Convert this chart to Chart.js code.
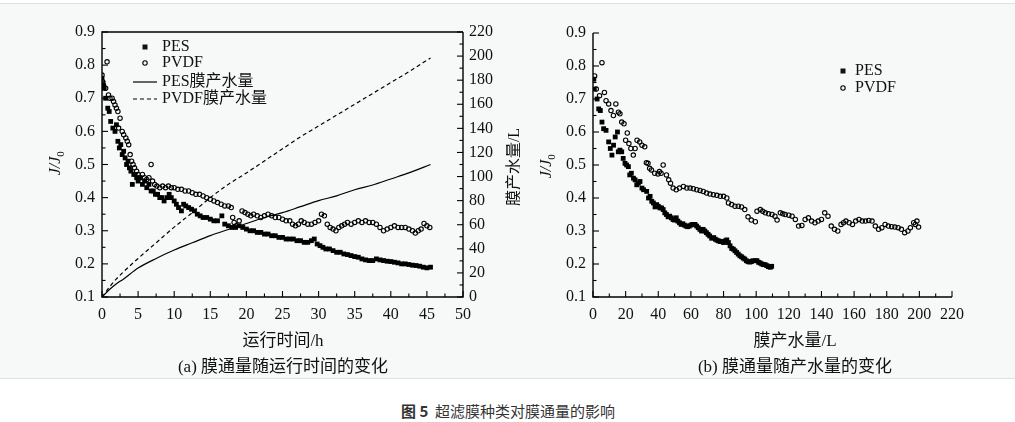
<!DOCTYPE html>
<html>
<head>
<meta charset="utf-8">
<script src="https://cdn.jsdelivr.net/npm/chart.js@4.4.1/dist/chart.umd.min.js"></script>
<style>
body { margin: 0; width: 1015px; height: 422px; background: #fff; position: relative; overflow: hidden; }
#panel { position: absolute; left: 0; top: 3px; width: 1015px; height: 374px; background: #f7f8f8;
         border-top: 1px solid #dde3e3; border-bottom: 1px solid #dde3e3; }
canvas { position: absolute; top: 0; }
.lab { position: absolute; transform: translate(-50%, -50%); white-space: nowrap; font-size: 17px; color: #111;
       font-family: "Liberation Serif", "Noto Sans CJK SC", serif; }
#fig { position: absolute; transform: translate(-50%, -50%); white-space: nowrap; font-size: 15px; color: #333;
       font-family: "Noto Sans CJK SC", sans-serif; }
</style>
</head>
<body>
<div id="panel"></div>
<canvas id="chartA" width="520" height="330" style="left:0px"></canvas>
<canvas id="chartB" width="495" height="330" style="left:520px"></canvas>
<div class="lab" style="left:283px;top:338px">运行时间/h</div>
<div class="lab" style="left:283px;top:364px">(a) 膜通量随运行时间的变化</div>
<div class="lab" style="left:795px;top:338px">膜产水量/L</div>
<div class="lab" style="left:795px;top:364px">(b) 膜通量随产水量的变化</div>
<div id="fig" style="left:508px;top:410px"><b>图 5</b>&nbsp;&nbsp;超滤膜种类对膜通量的影响</div>

<script>
// J/J0 against running time (h)
var pesTime = [[0,0.76],[0.1,0.74],[0.3,0.73],[0.5,0.70],[0.8,0.67],[1.0,0.66],[1.2,0.63],[1.5,0.61],[1.8,0.60],[2.0,0.62],
  [2.2,0.57],[2.4,0.55],[2.6,0.56],[2.8,0.53],[3.0,0.54],[3.2,0.52],[3.4,0.50],[3.6,0.51],[3.8,0.49],[4.0,0.48],
  [4.2,0.44],[4.4,0.47],[4.6,0.47],[4.8,0.46],[5.0,0.45],[5.3,0.46],[5.6,0.44],[5.9,0.45],[6.2,0.43],[6.5,0.44],
  [6.8,0.42],[7.1,0.42],[7.4,0.41],[7.7,0.41],[8.0,0.40],[8.3,0.40],[8.6,0.39],[9.0,0.40],[9.3,0.41],[9.6,0.40],
  [10.0,0.39],[10.3,0.38],[10.6,0.37],[11.0,0.36],[11.3,0.38],[11.6,0.375],[12.0,0.37],[12.4,0.365],[12.8,0.36],[13.2,0.35],
  [13.6,0.345],[14.0,0.34],[14.5,0.34],[15.0,0.335],[15.5,0.33],[16.0,0.33],[16.6,0.345],[17.0,0.32],[17.5,0.315],[18.0,0.31],
  [18.5,0.31],[19.0,0.315],[19.5,0.31],[20.0,0.305],[20.5,0.30],[21.0,0.30],[21.5,0.295],[22.0,0.295],[22.5,0.29],[23.0,0.29],
  [23.5,0.285],[24.0,0.285],[24.5,0.28],[25.0,0.28],[25.5,0.275],[26.0,0.275],[26.5,0.275],[27.0,0.27],[27.5,0.27],[28.0,0.265],
  [28.5,0.265],[29.0,0.27],[29.4,0.275],[29.8,0.26],[30.2,0.255],[30.6,0.25],[31.0,0.245],[31.5,0.245],[32.0,0.24],[32.5,0.235],
  [33.0,0.235],[33.5,0.23],[34.0,0.228],[34.5,0.225],[35.0,0.222],[35.5,0.22],[36.0,0.215],[36.5,0.212],[37.0,0.21],[37.5,0.21],
  [38.0,0.215],[38.5,0.212],[39.0,0.21],[39.5,0.208],[40.0,0.207],[40.5,0.205],[41.0,0.203],[41.5,0.20],[42.0,0.20],[42.5,0.198],
  [43.0,0.196],[43.5,0.195],[44.0,0.193],[44.5,0.19],[45.0,0.188],[45.5,0.19]];

var pvdfTime = [[0,0.77],[0.1,0.75],[0.2,0.74],[0.7,0.81],[0.5,0.73],[0.9,0.71],[1.1,0.70],[1.4,0.70],[1.6,0.69],[1.8,0.68],
  [2.0,0.67],[2.2,0.66],[2.5,0.64],[2.3,0.61],[2.8,0.60],[3.0,0.59],[3.3,0.58],[3.5,0.57],[3.7,0.56],[3.9,0.53],
  [4.1,0.51],[4.3,0.50],[4.5,0.49],[4.8,0.48],[5.0,0.47],[5.3,0.46],[5.6,0.47],[5.9,0.46],[6.2,0.455],[6.5,0.46],
  [6.8,0.50],[7.0,0.45],[7.3,0.44],[7.6,0.435],[8.0,0.43],[8.4,0.435],[8.8,0.43],[9.2,0.435],[9.6,0.43],[10.0,0.43],
  [10.5,0.425],[11.0,0.425],[11.5,0.42],[12.0,0.42],[12.5,0.415],[13.0,0.41],[13.5,0.41],[14.0,0.405],[14.5,0.40],[15.0,0.395],
  [15.5,0.39],[16.0,0.385],[16.5,0.38],[17.0,0.375],[17.5,0.375],[17.9,0.37],[18.1,0.34],[18.3,0.325],[18.6,0.315],[19.0,0.33],
  [19.4,0.36],[19.8,0.355],[20.2,0.35],[20.6,0.345],[21.0,0.35],[21.5,0.345],[22.0,0.34],[22.5,0.345],[23.0,0.35],[23.5,0.345],
  [24.0,0.34],[24.5,0.34],[25.0,0.335],[25.5,0.33],[26.0,0.33],[26.4,0.32],[26.8,0.315],[27.2,0.32],[27.6,0.33],[28.0,0.325],
  [28.5,0.32],[29.0,0.32],[29.5,0.325],[30.0,0.33],[30.4,0.35],[30.8,0.345],[31.2,0.32],[31.6,0.31],[32.0,0.305],[32.4,0.30],
  [32.8,0.31],[33.2,0.315],[33.6,0.32],[34.0,0.325],[34.5,0.32],[35.0,0.325],[35.5,0.33],[36.0,0.325],[36.5,0.33],[37.0,0.325],
  [37.5,0.325],[38.0,0.32],[38.5,0.31],[39.0,0.30],[39.5,0.305],[40.0,0.31],[40.5,0.315],[41.0,0.31],[41.5,0.31],[42.0,0.31],
  [42.5,0.305],[43.0,0.30],[43.4,0.293],[43.8,0.30],[44.2,0.305],[44.6,0.322],[45.0,0.315],[45.4,0.31]];

// cumulative permeate volume (L) against running time (h)
var runTime  = [0, 1, 2, 3, 5, 7.5, 10, 12.5, 15, 17.5, 20, 22.5, 25, 27.5, 30, 32.5, 35, 37.5, 40, 42.5, 45.5];
var pesWater  = [0, 6, 11, 15, 24, 32, 39, 45, 51, 56, 61, 66, 70, 75, 80, 84, 89, 93, 98, 103, 110];
var pvdfWater = [0, 8, 15, 21, 32, 45, 58, 70, 82.5, 93.5, 103, 113, 123, 133, 142, 151, 160, 169, 178, 187, 198.5];

// J/J0 against permeate volume (L)
var pesVol = [[0.5,0.76],[0.8,0.73],[2.5,0.70],[3.5,0.67],[4.5,0.665],[5.5,0.63],[6.5,0.61],[8,0.605],[9.6,0.57],[10.6,0.55],
  [11.6,0.53],[12.6,0.56],[13.6,0.585],[15,0.60],[15.5,0.54],[16.5,0.545],[17.6,0.54],[18.5,0.52],[19.6,0.505],[20.6,0.50],
  [21.7,0.495],[22.5,0.47],[23.5,0.475],[24.8,0.46],[25.8,0.455],[26.8,0.44],[27.8,0.445],[28.8,0.45],[30,0.43],[31,0.425],
  [32.9,0.42],[34,0.40],[35,0.405],[36,0.39],[37,0.385],[38,0.373],[39,0.38],[40,0.375],[41,0.37],[42,0.37],
  [43,0.365],[44,0.355],[45,0.35],[46,0.343],[47,0.345],[48,0.34],[49,0.335],[50,0.333],[51,0.34],[52,0.33],
  [53,0.325],[54,0.32],[55,0.322],[56,0.318],[57,0.315],[58,0.313],[59,0.315],[60,0.318],[61,0.32],[62.5,0.32],
  [63.5,0.315],[64.5,0.31],[65.5,0.305],[66.5,0.30],[67.5,0.305],[68.5,0.30],[69.5,0.295],[70.5,0.29],[71.5,0.285],[72.7,0.278],
  [74,0.28],[75,0.275],[76,0.272],[77,0.27],[78,0.268],[79,0.268],[80,0.265],[81,0.27],[82,0.273],[83,0.265],
  [84,0.255],[85,0.247],[86,0.245],[87,0.24],[88,0.235],[89,0.23],[90,0.225],[91,0.222],[92,0.218],[93,0.215],
  [94,0.21],[95,0.207],[96,0.206],[97,0.207],[98,0.21],[99.5,0.21],[100.5,0.21],[101.5,0.205],[102.5,0.203],[103.5,0.20],
  [104.5,0.198],[105.5,0.198],[106.5,0.195],[107.5,0.192],[108.6,0.19],[109.5,0.193]];

var pvdfVol = [[1,0.77],[2,0.73],[4,0.71],[5.5,0.81],[7,0.72],[8,0.695],[9.6,0.685],[11,0.665],[12.5,0.65],[14,0.685],
  [15.6,0.66],[16.5,0.655],[17.6,0.63],[19,0.625],[20,0.575],[21,0.597],[22,0.565],[23.2,0.55],[24.7,0.53],[25.8,0.55],
  [27,0.575],[28.6,0.57],[30,0.56],[31.7,0.555],[32.7,0.507],[33.7,0.505],[34.7,0.49],[35.8,0.485],[37.8,0.475],[39.8,0.473],
  [40.7,0.48],[41.7,0.475],[43,0.50],[45,0.47],[46.4,0.455],[47.5,0.445],[49.1,0.43],[51,0.425],[53,0.43],[55.4,0.435],
  [57.5,0.43],[59.5,0.43],[61.5,0.428],[63.6,0.425],[65.6,0.423],[67.6,0.42],[69.6,0.415],[71.7,0.412],[73.8,0.41],[75.9,0.408],
  [78,0.405],[80,0.405],[82,0.40],[83,0.385],[85,0.38],[87,0.375],[89,0.375],[91,0.373],[93,0.365],[95,0.343],
  [97,0.333],[99.5,0.328],[100.5,0.36],[102.5,0.365],[104,0.36],[105.6,0.355],[107.6,0.352],[109.7,0.35],[111.5,0.345],[112.8,0.333],
  [114.8,0.355],[116.3,0.352],[117.8,0.35],[120,0.348],[122,0.345],[124,0.335],[126,0.315],[128,0.317],[130,0.335],[132,0.34],
  [134,0.33],[136,0.325],[138,0.33],[140,0.335],[142,0.355],[144,0.345],[146,0.315],[148,0.305],[150,0.30],[152,0.32],
  [153.5,0.325],[155,0.33],[157,0.325],[159,0.32],[161,0.33],[163,0.335],[165,0.33],[167,0.33],[169,0.332],[171,0.33],
  [173,0.315],[175,0.305],[177,0.31],[179,0.32],[181,0.315],[183,0.313],[185,0.312],[187,0.31],[189,0.305],[191,0.295],
  [193,0.30],[194.5,0.31],[196.5,0.325],[197.5,0.32],[198.5,0.33],[199.5,0.312]];

var SERIF = '"Liberation Serif", "Noto Sans CJK SC", serif';

function pairs(list) {
    return list.map(function (p) { return {x: p[0], y: p[1]}; });
}
function zipXY(xs, ys) {
    return xs.map(function (x, i) { return {x: x, y: ys[i]}; });
}

function drawTicks(ctx, scale, side, edge) {
    var vals = scale.ticks.map(function (t) { return t.value; });
    for (var i = 0; i < vals.length; i++) {
        marks(scale.getPixelForValue(vals[i]), 6);
        if (i < vals.length - 1) marks(scale.getPixelForValue((vals[i] + vals[i + 1]) / 2), 3.5);
    }
    function marks(p, len) {
        ctx.beginPath();
        if (side == 'bottom') { ctx.moveTo(p, edge); ctx.lineTo(p, edge - len); }
        if (side == 'left')   { ctx.moveTo(edge, p); ctx.lineTo(edge + len, p); }
        if (side == 'right')  { ctx.moveTo(edge, p); ctx.lineTo(edge - len, p); }
        ctx.stroke();
    }
}

function drawJ(ctx, x, y) {
    ctx.save();
    ctx.translate(x, y);
    ctx.rotate(-Math.PI / 2);
    ctx.fillStyle = '#111';
    ctx.textBaseline = 'middle';
    ctx.font = 'italic 16px ' + SERIF;
    var w = ctx.measureText('J/J').width;
    ctx.fillText('J/J', -w / 2 - 3, 0);
    ctx.font = '11px ' + SERIF;
    ctx.fillText('0', w / 2 - 3, 5);
    ctx.restore();
}

var framePlugin = {
    id: 'frame',
    afterDatasetsDraw: function (chart, args, opts) {
        var ctx = chart.ctx, a = chart.chartArea;
        ctx.save();
        ctx.strokeStyle = '#000';
        ctx.lineWidth = 1.4;
        ctx.beginPath();
        if (opts.box) { ctx.moveTo(a.right, a.top); ctx.lineTo(a.left, a.top); }
        else ctx.moveTo(a.left, a.top);
        ctx.lineTo(a.left, a.bottom);
        ctx.lineTo(a.right, a.bottom);
        if (opts.box) ctx.lineTo(a.right, a.top);
        ctx.stroke();
        ctx.lineWidth = 1.1;
        drawTicks(ctx, chart.scales.x, 'bottom', a.bottom);
        drawTicks(ctx, chart.scales.y, 'left', a.left);
        if (chart.scales.y2) drawTicks(ctx, chart.scales.y2, 'right', a.right);

        // legend
        ctx.font = '16px ' + SERIF;
        ctx.textBaseline = 'middle';
        ctx.fillStyle = '#111';
        opts.legend.forEach(function (row) {
            var ds = chart.data.datasets[row.ds];
            var mx = a.left + opts.lx, my = a.top + row.dy;
            if (ds.pointStyle == 'rect') {
                ctx.fillRect(mx - 2.5, my - 2.5, 5, 5);
            } else if (ds.showLine) {
                ctx.save();
                ctx.lineWidth = 1.2;
                ctx.setLineDash(ds.borderDash || []);
                ctx.beginPath();
                ctx.moveTo(mx - 12, my);
                ctx.lineTo(mx + 12, my);
                ctx.stroke();
                ctx.restore();
            } else {
                ctx.save();
                ctx.lineWidth = 1.1;
                ctx.beginPath();
                ctx.arc(mx, my, 2.2, 0, Math.PI * 2);
                ctx.stroke();
                ctx.restore();
            }
            ctx.fillText(ds.label, a.left + opts.tx, my);
        });

        // axis titles
        drawJ(ctx, opts.jx, opts.jy);
        if (opts.y2title) {
            ctx.save();
            ctx.translate(opts.y2title.x, opts.y2title.y);
            ctx.rotate(-Math.PI / 2);
            ctx.textAlign = 'center';
            ctx.font = '16px ' + SERIF;
            ctx.fillText(opts.y2title.text, 0, 0);
            ctx.restore();
        }
        ctx.restore();
    }
};

function axis(min, max, step, pos, pad, fmt) {
    var t = { font: { family: SERIF, size: 16 }, color: '#111', autoSkip: false, maxRotation: 0,
              stepSize: step, padding: pad };
    if (fmt) t.callback = fmt;
    return { type: 'linear', position: pos, min: min, max: max, ticks: t,
             grid: { display: false, drawTicks: false }, border: { display: false } };
}
function oneDec(v) { return v.toFixed(1); }
function fixW(w) { return function (s) { s.width = w; }; }
function fixH(h) { return function (s) { s.height = h; }; }

var pesStyle = { pointStyle: 'rect', pointRadius: 3.4, backgroundColor: '#000', borderColor: '#000', borderWidth: 0, showLine: false };
var pvdfStyle = { pointStyle: 'circle', pointRadius: 2.2, backgroundColor: 'rgba(0,0,0,0)', borderColor: '#000', borderWidth: 1.1, showLine: false };

var chartA = new Chart(document.getElementById('chartA'), {
    type: 'scatter',
    data: {
        datasets: [
            Object.assign({ label: 'PES', data: pairs(pesTime) }, pesStyle),
            Object.assign({ label: 'PVDF', data: pairs(pvdfTime) }, pvdfStyle),
            { label: 'PES膜产水量', data: zipXY(runTime, pesWater), yAxisID: 'y2', showLine: true, pointRadius: 0,
              borderColor: '#000', borderWidth: 1.2, cubicInterpolationMode: 'monotone' },
            { label: 'PVDF膜产水量', data: zipXY(runTime, pvdfWater), yAxisID: 'y2', showLine: true, pointRadius: 0,
              borderColor: '#000', borderWidth: 1.2, borderDash: [4, 3], cubicInterpolationMode: 'monotone' }
        ]
    },
    options: {
        responsive: false,
        animation: false,
        layout: { padding: { top: 32, left: 0, right: 0, bottom: 0 } },
        scales: {
            x: Object.assign(axis(0, 50, 5, 'bottom', 8), { afterFit: fixH(33) }),
            y: Object.assign(axis(0.1, 0.9, 0.1, 'left', 7, oneDec), { afterFit: fixW(102) }),
            y2: Object.assign(axis(0, 220, 20, 'right', 6), { afterFit: fixW(57) })
        },
        plugins: {
            legend: { display: false },
            tooltip: { enabled: false },
            frame: { box: true, lx: 43, tx: 60, jx: 56, jy: 163,
                     legend: [{ ds: 0, dy: 15 }, { ds: 1, dy: 31 }, { ds: 2, dy: 50 }, { ds: 3, dy: 67 }],
                     y2title: { text: '膜产水量/L', x: 515, y: 167 } }
        }
    },
    plugins: [framePlugin]
});

var chartB = new Chart(document.getElementById('chartB'), {
    type: 'scatter',
    data: {
        datasets: [
            Object.assign({ label: 'PES', data: pairs(pesVol) }, pesStyle),
            Object.assign({ label: 'PVDF', data: pairs(pvdfVol) }, pvdfStyle)
        ]
    },
    options: {
        responsive: false,
        animation: false,
        layout: { padding: { top: 33, left: 0, right: 63, bottom: 0 } },
        scales: {
            x: Object.assign(axis(0, 220, 20, 'bottom', 8), { afterFit: fixH(33) }),
            y: Object.assign(axis(0.1, 0.9, 0.1, 'left', 7, oneDec), { afterFit: fixW(73) })
        },
        plugins: {
            legend: { display: false },
            tooltip: { enabled: false },
            frame: { box: false, lx: 250, tx: 262, jx: 27, jy: 166,
                     legend: [{ ds: 0, dy: 38 }, { ds: 1, dy: 55 }] }
        }
    },
    plugins: [framePlugin]
});
</script>
</body>
</html>
